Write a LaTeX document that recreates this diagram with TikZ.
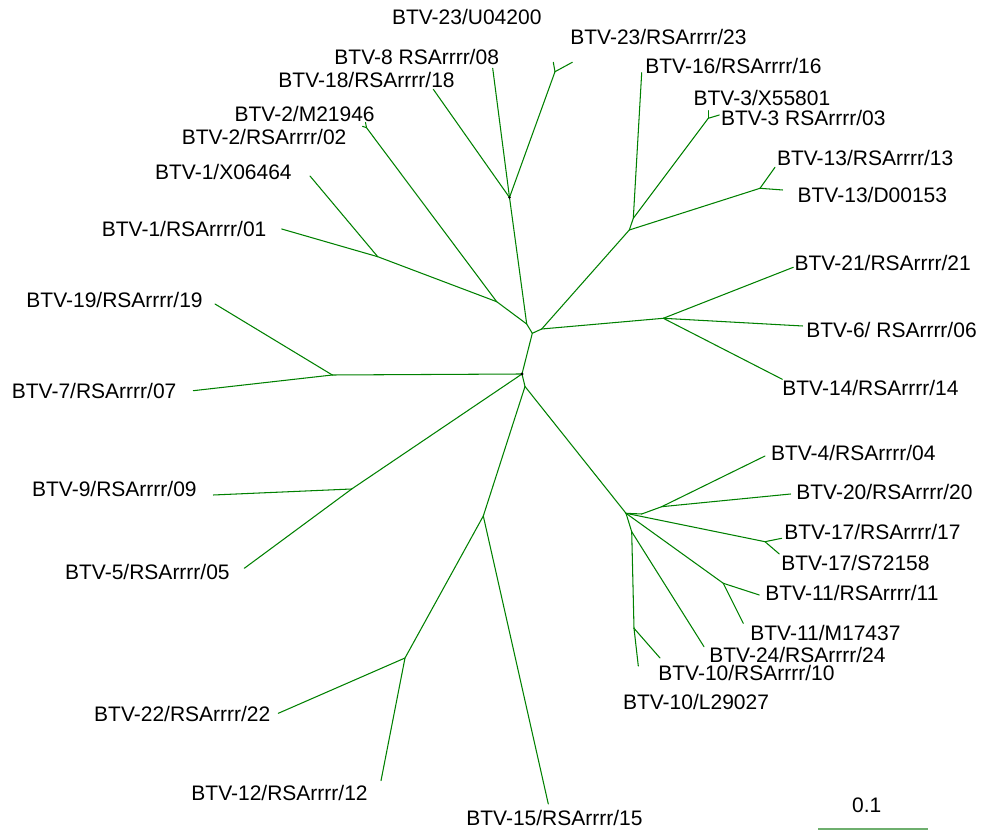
\documentclass[tikz,border=0pt]{standalone}
\usepackage{fontspec}
\setmainfont{Liberation Sans}
\usepackage{tikz}
\definecolor{treegreen}{RGB}{0,128,0}
\definecolor{bargreen}{RGB}{110,175,110}
\tikzset{
  branch/.style={draw=treegreen, line width=0.6pt, line cap=round},
  leftlabel/.style={anchor=base east, inner sep=0pt, font=\fontsize{11.95}{14}\selectfont},
  rightlabel/.style={anchor=base west, inner sep=0pt, font=\fontsize{11.95}{14}\selectfont},
  knot/.style={fill=black}
}

\begin{document}
\begin{tikzpicture}[x=0.02cm, y=-0.02cm]
    \useasboundingbox (0,0) rectangle (981,830);
    % internal nodes
    \coordinate (ctr) at (522,374);
    \coordinate (ctrup) at (532.3,333.3);
    \coordinate (upl) at (526.7,324);
    \coordinate (upr) at (541.7,329);
    \coordinate (top) at (509.5,197.5);
    \coordinate (t23) at (555,71.7);
    \coordinate (left1) at (496.7,301.7);
    \coordinate (t1) at (377.7,256.7);
    \coordinate (t2) at (366.5,127.7);
    \coordinate (k16) at (633.3,218.3);
    \coordinate (k13) at (629.3,230);
    \coordinate (t3) at (708.3,118.3);
    \coordinate (t13) at (760,188.3);
    \coordinate (r21) at (663.3,318.3);
    \coordinate (t7) at (332.3,375);
    \coordinate (t9) at (351.7,489);
    \coordinate (low) at (525,386.5);
    \coordinate (s15) at (483.3,516);
    \coordinate (t22) at (405,658);
    \coordinate (lr) at (626,513.3);
    \coordinate (lr2) at (641.7,514);
    \coordinate (t4) at (661.7,506.7);
    \coordinate (t17) at (765,541.7);
    \coordinate (t11) at (723.3,583.3);
    \coordinate (lv) at (631.7,531.7);
    \coordinate (t10) at (634,628.3);
    % leaf tips
    \coordinate (l23u) at (553.3,62.3);
    \coordinate (l23r) at (572.3,62.3);
    \coordinate (l08) at (492.7,68.3);
    \coordinate (l18) at (433.3,89.3);
    \coordinate (l2m) at (365.5,122.5);
    \coordinate (l2r) at (362.5,126.3);
    \coordinate (l1x) at (310,176);
    \coordinate (l1r) at (281.7,229);
    \coordinate (l19) at (215,304);
    \coordinate (l07) at (193.3,390.7);
    \coordinate (l09) at (213.3,495);
    \coordinate (l05) at (244.3,568.3);
    \coordinate (l22) at (278.3,713.3);
    \coordinate (l12) at (381,780.7);
    \coordinate (l15) at (548.3,804);
    \coordinate (l10l) at (638.3,666);
    \coordinate (l10r) at (660,658);
    \coordinate (l24) at (704,646.7);
    \coordinate (l11m) at (743.3,623.3);
    \coordinate (l11r) at (759.3,595);
    \coordinate (l17s) at (779.3,554);
    \coordinate (l17r) at (781.7,538.3);
    \coordinate (l20) at (790.7,494);
    \coordinate (l04) at (765,456);
    \coordinate (l14) at (782.3,379.3);
    \coordinate (l06) at (802.7,326);
    \coordinate (l21) at (793.3,267.3);
    \coordinate (l13d) at (782.7,190);
    \coordinate (l13r) at (775,167.3);
    \coordinate (l3r) at (719.3,115);
    \coordinate (l3x) at (708.3,110.7);
    \coordinate (l16) at (641.7,72.7);
    % branches
    \foreach \a/\b in {ctr/ctrup, ctrup/upl, ctrup/upr, upl/top, upl/left1,
        top/l18, top/l08, top/t23, t23/l23u, t23/l23r,
        left1/t2, left1/t1, t2/l2m, t2/l2r, t1/l1x, t1/l1r,
        upr/k13, k13/k16, k16/l16, k16/t3, t3/l3x, t3/l3r,
        k13/t13, t13/l13r, t13/l13d,
        upr/r21, r21/l21, r21/l06, r21/l14,
        ctr/t7, t7/l19, t7/l07, ctr/t9, t9/l09, t9/l05,
        ctr/low, low/s15, s15/t22, t22/l22, t22/l12, s15/l15,
        low/lr, lr/lr2, lr2/t4, t4/l04, t4/l20,
        lr/t17, t17/l17r, t17/l17s, lr/t11, t11/l11r, t11/l11m,
        lr/lv, lv/l24, lv/t10, t10/l10r, t10/l10l}
      \draw[branch] (\a) -- (\b);
    \fill[knot] (ctr) circle (0.9pt);
    \fill[knot] (top) circle (0.8pt);
    % labels
    \node[rightlabel] (n23u) at (391.7,24.8) {BTV-23/U04200};
    \node[rightlabel] (n23r) at (570,44.2) {BTV-23/RSArrrr/23};
    \node[leftlabel] (n08) at (499.3,64.2) {BTV-8 RSArrrr/08};
    \node[leftlabel] (n18) at (455,87.5) {BTV-18/RSArrrr/18};
    \node[leftlabel] (n2m) at (375,121.5) {BTV-2/M21946};
    \node[leftlabel] (n2r) at (346.7,144.5) {BTV-2/RSArrrr/02};
    \node[leftlabel] (n1x) at (292,179.2) {BTV-1/X06464};
    \node[leftlabel] (n1r) at (266.7,236.5) {BTV-1/RSArrrr/01};
    \node[leftlabel] (n19) at (203,307.5) {BTV-19/RSArrrr/19};
    \node[leftlabel] (n07) at (176.7,398.2) {BTV-7/RSArrrr/07};
    \node[leftlabel] (n09) at (197,496.5) {BTV-9/RSArrrr/09};
    \node[leftlabel] (n05) at (230,579.2) {BTV-5/RSArrrr/05};
    \node[leftlabel] (n22) at (270.7,721.5) {BTV-22/RSArrrr/22};
    \node[leftlabel] (n12) at (368,800.2) {BTV-12/RSArrrr/12};
    \node[rightlabel] (n15) at (466,825.8) {BTV-15/RSArrrr/15};
    \node[rightlabel] (n10l) at (622.7,709.2) {BTV-10/L29027};
    \node[rightlabel] (n10r) at (658,680.8) {BTV-10/RSArrrr/10};
    \node[rightlabel] (n24) at (709,662.5) {BTV-24/RSArrrr/24};
    \node[rightlabel] (n11m) at (750,640.8) {BTV-11/M17437};
    \node[rightlabel] (n11r) at (765,600.8) {BTV-11/RSArrrr/11};
    \node[rightlabel] (n17s) at (781,570.8) {BTV-17/S72158};
    \node[rightlabel] (n17r) at (784,539.2) {BTV-17/RSArrrr/17};
    \node[rightlabel] (n20) at (796,499.2) {BTV-20/RSArrrr/20};
    \node[rightlabel] (n04) at (770.7,460.5) {BTV-4/RSArrrr/04};
    \node[rightlabel] (n14) at (782,395.5) {BTV-14/RSArrrr/14};
    \node[rightlabel] (n06) at (806,337.5) {BTV-6/ RSArrrr/06};
    \node[rightlabel] (n21) at (794.3,270.8) {BTV-21/RSArrrr/21};
    \node[rightlabel] (n13d) at (797.3,202.5) {BTV-13/D00153};
    \node[rightlabel] (n13r) at (776.7,165.8) {BTV-13/RSArrrr/13};
    \node[rightlabel] (n3r) at (720.7,125.8) {BTV-3 RSArrrr/03};
    \node[rightlabel] (n3x) at (693.3,105.8) {BTV-3/X55801};
    \node[rightlabel] (n16) at (645,73.5) {BTV-16/RSArrrr/16};
    % scale bar
    \coordinate (sb1) at (818.3,829);
    \coordinate (sb2) at (928.3,829);
    \draw[draw=bargreen, line width=0.6pt] (sb1) -- (sb2);
    \node[font=\fontsize{11.95}{14}\selectfont, inner sep=0pt, anchor=base] (sblabel) at (866.7,812.5) {0.1};
  \end{tikzpicture}
\end{document}
